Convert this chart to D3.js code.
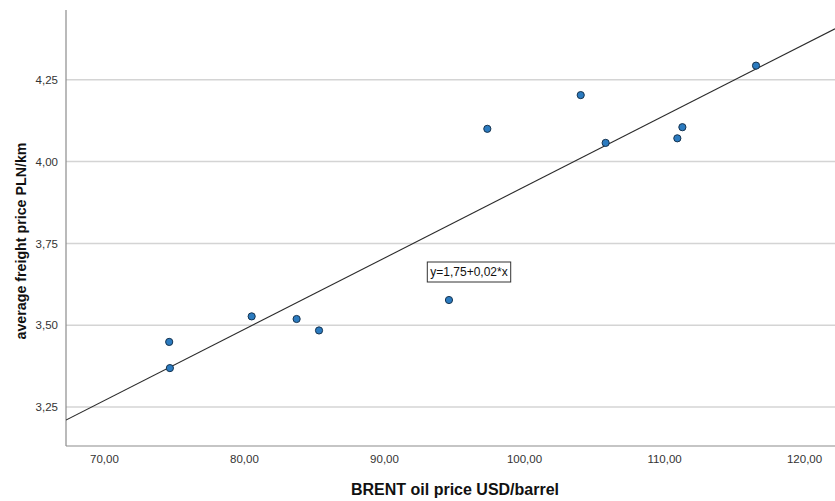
<!DOCTYPE html>
<html>
<head>
<meta charset="utf-8">
<script src="https://cdn.jsdelivr.net/npm/d3@7"></script>
<style>
  html, body { margin: 0; padding: 0; background: #fff; }
  svg { display: block; font-family: Arial, "Liberation Sans", sans-serif; }
</style>
</head>
<body>
<svg id="chart" width="835" height="501"></svg>
<script>
// Data
const brentPrice = [74.66, 74.71, 80.55, 83.76, 85.36, 94.64, 97.38, 104.05, 105.83, 110.95, 111.31, 116.57];
const freightPrice = [3.449, 3.369, 3.527, 3.519, 3.484, 3.577, 4.100, 4.203, 4.057, 4.071, 4.105, 4.293];
const xTicks = [70, 80, 90, 100, 110, 120];
const yTicks = [3.25, 3.50, 3.75, 4.00, 4.25];
const xDomain = [67.29, 122.21];
const yDomain = [3.131, 4.463];
const equationLabel = "y=1,75+0,02*x";
const xTitle = "BRENT oil price USD/barrel";
const yTitle = "average freight price PLN/km";

(function () {
const svg = d3.select("#chart");
const mLeft = 66, mRight = 835, mTop = 10, mBottom = 446;

const x = d3.scaleLinear().domain(xDomain).range([mLeft, mRight]);
const y = d3.scaleLinear().domain(yDomain).range([mBottom, mTop]);

const fmt = v => d3.format(".2f")(v).replace(".", ",");

// gridlines
svg.append("g").selectAll("line").data(yTicks).join("line")
  .attr("x1", mLeft).attr("x2", mRight)
  .attr("y1", d => y(d)).attr("y2", d => y(d))
  .attr("stroke", "#d4d4d4").attr("stroke-width", 1.5);

// y axis
const yAxis = svg.append("g").attr("transform", `translate(${mLeft},0)`)
  .call(d3.axisLeft(y).tickValues(yTicks).tickFormat(fmt).tickSize(0).tickPadding(8));
yAxis.select(".domain").attr("stroke", "#8c8c8c").attr("stroke-width", 1.2)
  .attr("d", `M0,${mTop}V${mBottom}`);
yAxis.selectAll("text").attr("font-size", 11.5).attr("fill", "#333")
  .attr("font-family", "Arial, 'Liberation Sans', sans-serif");

// x axis
const xAxis = svg.append("g").attr("transform", `translate(0,${mBottom})`)
  .call(d3.axisBottom(x).tickValues(xTicks).tickFormat(fmt).tickSize(0).tickPadding(9));
xAxis.select(".domain").attr("stroke", "#8c8c8c").attr("stroke-width", 1.2)
  .attr("d", `M${mLeft},0H${mRight}`);
xAxis.selectAll("text").attr("font-size", 11.5).attr("fill", "#333")
  .attr("font-family", "Arial, 'Liberation Sans', sans-serif");

// regression line (least squares from data)
const mx = d3.mean(brentPrice), my = d3.mean(freightPrice);
let sxy = 0, sxx = 0;
brentPrice.forEach((v, i) => { sxy += (v - mx) * (freightPrice[i] - my); sxx += (v - mx) * (v - mx); });
const slope = sxy / sxx, intercept = my - slope * mx;
svg.append("defs").append("clipPath").attr("id", "clip")
  .append("rect").attr("x", mLeft).attr("y", mTop - 10).attr("width", mRight - mLeft).attr("height", mBottom - mTop + 10);
svg.append("line")
  .attr("clip-path", "url(#clip)")
  .attr("x1", x(xDomain[0])).attr("y1", y(intercept + slope * xDomain[0]))
  .attr("x2", x(xDomain[1])).attr("y2", y(intercept + slope * xDomain[1]))
  .attr("stroke", "#2b2b2b").attr("stroke-width", 1.1);

// points
svg.append("g").selectAll("circle").data(brentPrice).join("circle")
  .attr("cx", d => x(d)).attr("cy", (d, i) => y(freightPrice[i]))
  .attr("r", 3.6)
  .attr("fill", "#2b7bc0").attr("stroke", "#16334f").attr("stroke-width", 1);

// equation label box
const eq = svg.append("g").attr("transform", "translate(469,272)");
const eqText = eq.append("text").attr("text-anchor", "middle").attr("dy", "0.35em")
  .attr("font-size", 12).attr("fill", "#111").text(equationLabel);
const bb = eqText.node().getBBox();
eq.insert("rect", "text")
  .attr("x", bb.x - 3).attr("y", -10).attr("width", bb.width + 6).attr("height", 20)
  .attr("fill", "#fff").attr("stroke", "#333").attr("stroke-width", 1);

// axis titles
svg.append("text").attr("x", 455).attr("y", 495).attr("text-anchor", "middle")
  .attr("font-size", 16).attr("font-weight", "bold").attr("fill", "#111").text(xTitle);
svg.append("text").attr("transform", "translate(26,241) rotate(-90)").attr("text-anchor", "middle")
  .attr("font-size", 15.5).attr("font-weight", "bold").attr("fill", "#111")
  .attr("textLength", 197).attr("lengthAdjust", "spacingAndGlyphs").text(yTitle);
})();
</script>
</body>
</html>
